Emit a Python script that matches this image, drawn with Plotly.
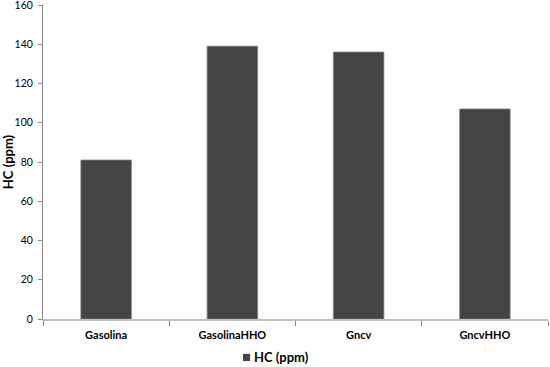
import plotly.graph_objects as go

categories = ["Gasolina", "GasolinaHHO", "Gncv", "GncvHHO"]
hc_ppm = [81, 139, 136, 107]
series_name = "HC (ppm)"
y_ticks = [0, 20, 40, 60, 80, 100, 120, 140, 160]

font = "Lato, 'Open Sans', sans-serif"
bar_color = "#444444"

fig = go.Figure()
fig.add_trace(go.Bar(
    x=categories, y=hc_ppm, name=series_name,
    marker=dict(color=bar_color, line=dict(color="#7f7f7f", width=0.8)),
    width=0.4, showlegend=False,
))

# legend (symbol + label), placed below the axis like the original
fig.add_shape(type="rect", xref="paper", yref="paper",
              x0=0.396, x1=0.410, y0=-0.134, y1=-0.111,
              fillcolor=bar_color, line=dict(width=0))
fig.add_annotation(xref="paper", yref="paper", x=0.414, y=-0.122,
                   xanchor="left", yanchor="middle", showarrow=False,
                   text="<b>%s</b>" % series_name,
                   font=dict(family=font, size=13, color="#000"))

fig.update_layout(
    width=550, height=367,
    margin=dict(l=43, r=2, t=5, b=48, autoexpand=False),
    paper_bgcolor="white", plot_bgcolor="white",
    font=dict(family=font, size=11, color="#000000"),
    showlegend=False,
    xaxis=dict(
        automargin=False,
        showline=True, linecolor="#bfbfbf", linewidth=2,
        ticks="outside", tickson="boundaries", ticklen=5, tickcolor="#888888",
        tickfont=dict(family=font, size=11, color="#000"),
        tickvals=categories,
        ticktext=["<b>%s</b>" % c for c in categories],
        ticklabelstandoff=5,
        showgrid=False, zeroline=False,
    ),
    yaxis=dict(
        automargin=False, ticklabeloverflow="allow",
        range=[0, 160], tickvals=y_ticks,
        showline=True, linecolor="#888888", linewidth=1,
        ticks="outside", ticklen=4, tickcolor="#888888",
        tickfont=dict(family=font, size=10.5, color="#000"),
        ticklabelstandoff=3,
        showgrid=False, zeroline=False,
        title=dict(text="<b>HC (ppm)</b>", font=dict(family=font, size=13, color="#000"), standoff=10),
    ),
    bargap=0.6,
)

fig.write_html("out.html", config={"displayModeBar": False},
               post_script="document.body.style.margin='0';document.body.style.overflow='hidden';")
